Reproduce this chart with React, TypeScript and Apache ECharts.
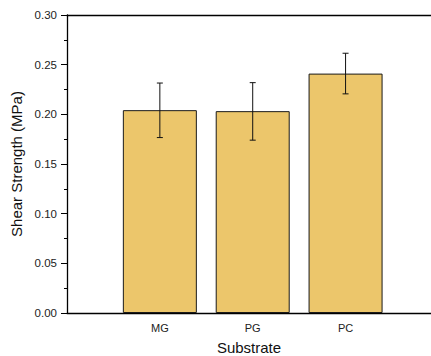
import React, { useEffect, useRef } from "react";
import * as echarts from "echarts";

const categories = ["MG", "PG", "PC"];
const positions = [1, 2, 3];
const means = [0.2042, 0.2032, 0.241];
const errLow = [0.1766, 0.174, 0.2206];
const errHigh = [0.2315, 0.2319, 0.2615];
const yTicks = [0, 0.05, 0.1, 0.15, 0.2, 0.25, 0.3];

const FONT = "Liberation Sans, Arial, sans-serif";

export default function App() {
  const ref = useRef<HTMLDivElement>(null);
  useEffect(() => {
    if (!ref.current) return;
    const chart = echarts.init(ref.current, undefined, { renderer: "svg" });
    const barData = positions.map((p, i) => [p, means[i]]);
    const errData = positions.map((p, i) => [p, errLow[i], errHigh[i]]);
    chart.setOption({
      animation: false,
      backgroundColor: "#ffffff",
      grid: { left: 67, right: 0, top: 15, bottom: 43, containLabel: false, outerBoundsMode: "none" },
      xAxis: [
        {
          type: "value",
          min: 0,
          max: 3.92,
          interval: 1,
          position: "bottom",
          name: "Substrate",
          nameLocation: "middle",
          nameGap: 27,
          nameTextStyle: { fontFamily: FONT, fontSize: 15, color: "#111" },
          axisLine: { show: true, onZero: false, lineStyle: { color: "#000", width: 1.3 } },
          axisTick: { show: false },
          splitLine: { show: false },
          axisLabel: {
            fontFamily: FONT,
            fontSize: 11,
            color: "#222",
            margin: 9,
            showMaxLabel: false,
            formatter: (v: number) => {
              const idx = positions.indexOf(Math.round(v));
              return idx >= 0 && Math.abs(v - positions[idx]) < 1e-6 ? categories[idx] : "";
            },
          },
        },
        {
          type: "value",
          min: 0,
          max: 3.92,
          position: "top",
          axisLine: { show: true, onZero: false, lineStyle: { color: "#000", width: 1.3 } },
          axisTick: { show: false },
          axisLabel: { show: false },
          splitLine: { show: false },
        },
      ],
      yAxis: {
        type: "value",
        min: yTicks[0],
        max: yTicks[yTicks.length - 1],
        interval: 0.05,
        name: "Shear Strength (MPa)",
        nameLocation: "middle",
        nameGap: 32,
        nameTextStyle: { fontFamily: FONT, fontSize: 15, color: "#111" },
        axisLine: { show: true, lineStyle: { color: "#000", width: 1.3 } },
        axisTick: { show: true, inside: false, length: 6, lineStyle: { color: "#000" } },
        minorTick: { show: true, splitNumber: 2, length: 3, lineStyle: { color: "#000" } },
        splitLine: { show: false },
        axisLabel: {
          fontFamily: FONT,
          fontSize: 11.5,
          color: "#222",
          margin: 10,
          formatter: (v: number) => v.toFixed(2),
        },
      },
      series: [
        {
          type: "bar",
          xAxisIndex: 0,
          data: barData,
          barWidth: 74,
          itemStyle: { color: "#ECC66B", borderColor: "#1a1a1a", borderWidth: 1 },
        },
        {
          type: "custom",
          xAxisIndex: 0,
          data: errData,
          z: 10,
          renderItem: (params: any, api: any) => {
            const x = api.value(0);
            const lo = api.coord([x, api.value(1)]);
            const hi = api.coord([x, api.value(2)]);
            const hw = 3;
            const style = { stroke: "#111", lineWidth: 1 };
            return {
              type: "group",
              children: [
                { type: "line", shape: { x1: lo[0], y1: lo[1], x2: hi[0], y2: hi[1] }, style },
                { type: "line", shape: { x1: hi[0] - hw, y1: hi[1], x2: hi[0] + hw, y2: hi[1] }, style },
                { type: "line", shape: { x1: lo[0] - hw, y1: lo[1], x2: lo[0] + hw, y2: lo[1] }, style },
              ],
            };
          },
        },
      ],
    });
    return () => chart.dispose();
  }, []);
  return (
    <div
      ref={ref}
      style={{ position: "fixed", left: 0, top: 0, width: 431, height: 356 }}
    />
  );
}
